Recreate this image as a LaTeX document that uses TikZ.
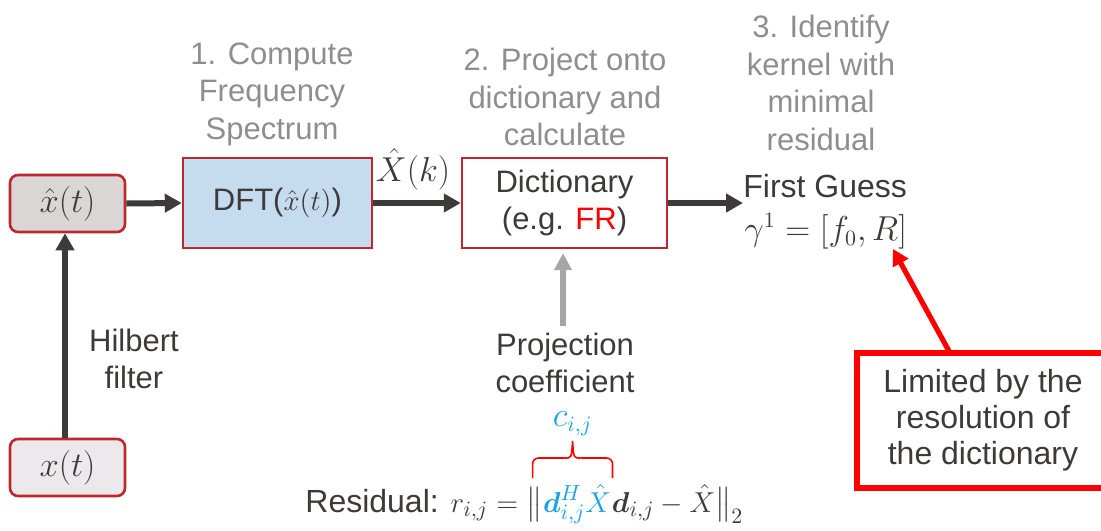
\documentclass[tikz,border=0pt]{standalone}
\usepackage{amsmath}
\usepackage{fontspec}
\setmainfont{Liberation Sans}
\usetikzlibrary{arrows.meta,calc}

\definecolor{ink}{HTML}{3F3A3A}
\definecolor{boxred}{HTML}{BE272D}
\definecolor{dftblue}{HTML}{C5DCEF}
\definecolor{xhatfill}{HTML}{DAD6D6}
\definecolor{xfill}{HTML}{EBE9EB}
\definecolor{arrowgray}{HTML}{A6A6A6}
\definecolor{titlegray}{HTML}{8E8E8E}
\definecolor{cblue}{HTML}{17A3E5}
\definecolor{alertred}{HTML}{FF0000}

% math set slightly smaller than the surrounding text
\newcommand\fmath[1]{{\fontsize{15}{18}\selectfont$#1$}}

\tikzset{
  sigbox/.style={draw=boxred, line width=1.3pt, rounded corners=4pt,
    minimum width=57.5pt, minimum height=28.5pt, inner sep=0pt,
    font=\fontsize{17}{20}\selectfont},
  procbox/.style={draw=boxred, line width=1.2pt, minimum height=45pt,
    align=center, inner sep=0pt},
  steptitle/.style={text=titlegray, align=center},
  flow/.style={draw=ink, line width=3pt,
    -{Triangle[length=8.5pt,width=9pt]}},
  feed/.style={draw=arrowgray, line width=2.6pt,
    -{Triangle[length=8.5pt,width=8.5pt]}},
  alertarrow/.style={draw=alertred, line width=2.6pt,
    -{Triangle[length=8pt,width=8.5pt]}},
  alertbox/.style={draw=alertred, line width=2.6pt, align=center,
    minimum width=126pt, minimum height=67.5pt, inner sep=0pt,
    font=\fontsize{16}{18}\selectfont},
  bracepath/.style={draw=alertred, line width=0.8pt},
  formula/.style={anchor=base west, inner sep=0pt,
    font=\fontsize{16}{19}\selectfont}
}

\begin{document}
\begin{tikzpicture}[x=0.5pt, y=-0.5pt, text=ink,
  font=\fontsize{15.5}{18.75}\selectfont]
\useasboundingbox (0,0) rectangle (1101,530);

% signal boxes
\node[sigbox, fill=xhatfill] (xh) at (67.5,203.5) {$\hat{x}(t)$};
\node[sigbox, fill=xfill] (x) at (67.5,467.5) {$x(t)$};
\node (hilb) at (134,359) [align=center] {Hilbert\\filter};

% processing blocks
\node[procbox, fill=dftblue, minimum width=94.5pt] (dft) at (277.5,203)
  {DFT($\hat{x}(t)$)};
\node[procbox, fill=white, minimum width=102.5pt] (dict) at (564.5,203)
  {Dictionary\\(e.g. \textcolor{alertred}{FR})};

% step titles
\node[steptitle] (t1) at (272,94) {1. Compute\\Frequency\\Spectrum};
\node[steptitle] (t2) at (565,97) {2. Project onto\\dictionary and\\calculate};
\node[steptitle] (t3) at (821,83) {3. Identify\\kernel with\\minimal\\residual};

% spectrum label
\node[font=\fontsize{16}{19}\selectfont] (Xk) at (413,169) {$\hat{X}(k)$};

% result
\node[anchor=base west, inner sep=0pt, font=\fontsize{16}{19}\selectfont]
  (fg) at (743,197) {First Guess};
\node[anchor=base west, inner sep=0pt, font=\fontsize{16}{19}\selectfont]
  (gam) at (744,240) {$\gamma^1=[f_0,R]$};

% projection coefficient
\node (proj) at (565,363) [align=center] {Projection\\coefficient};

% limitation note
\node[alertbox] (lim) at (983,420.5) {Limited by the\\resolution of\\the dictionary};
\coordinate (limtip) at (893,249);
\coordinate (limstart) at (950,353);

% connectors
\draw[flow] (x.north -| 65,0) -- (xh.south -| 65,0);
\draw[flow] (xh.east) -- (dft.west);
\draw[flow] (dft.east) -- (dict.west);
\draw[flow] (dict.east) -- (dict.east -| fg.west);
\draw[feed] (proj.north -| 563,0) -- ($(dict.south -| 563,0)+(0,4)$);
\draw[alertarrow] (limstart) -- (limtip);

% residual formula
\node[formula] (r1) at (305,512) {Residual: \fmath{r_{i,j}=\big\|}};
\node[formula, text=cblue] (r2) at (r1.base east)
  {\fmath{\boldsymbol{d}^H_{i,j}\hat{X}}};
\node[formula] (r3) at (r2.base east)
  {\fmath{\boldsymbol{d}_{i,j}-\hat{X}\big\|_2}};

% brace over the projection coefficient
\coordinate (ybot) at (0,478);
\coordinate (bl) at ($(r1.east |- ybot)+(-10,0)$);
\coordinate (br) at ($(r2.east |- ybot)+(1,0)$);
\coordinate (bm) at ($(bl)!0.5!(br)$);
\draw[bracepath, rounded corners=3pt] (bl) -- ++(0,-20) -- ($(bm)+(-8,-20)$);
\draw[bracepath, rounded corners=3pt] ($(bm)+(8,-20)$) -- ($(br)+(0,-20)$) -- (br);
\draw[bracepath] ($(bm)+(-8,-20)$) .. controls ($(bm)+(-1,-20)$) .. ($(bm)+(0,-37)$)
  .. controls ($(bm)+(1,-20)$) .. ($(bm)+(8,-20)$);
\node[text=cblue, font=\fontsize{16}{19}\selectfont] (cij) at ($(bm)+(0,-54)$) {$c_{i,j}$};
\end{tikzpicture}
\end{document}
